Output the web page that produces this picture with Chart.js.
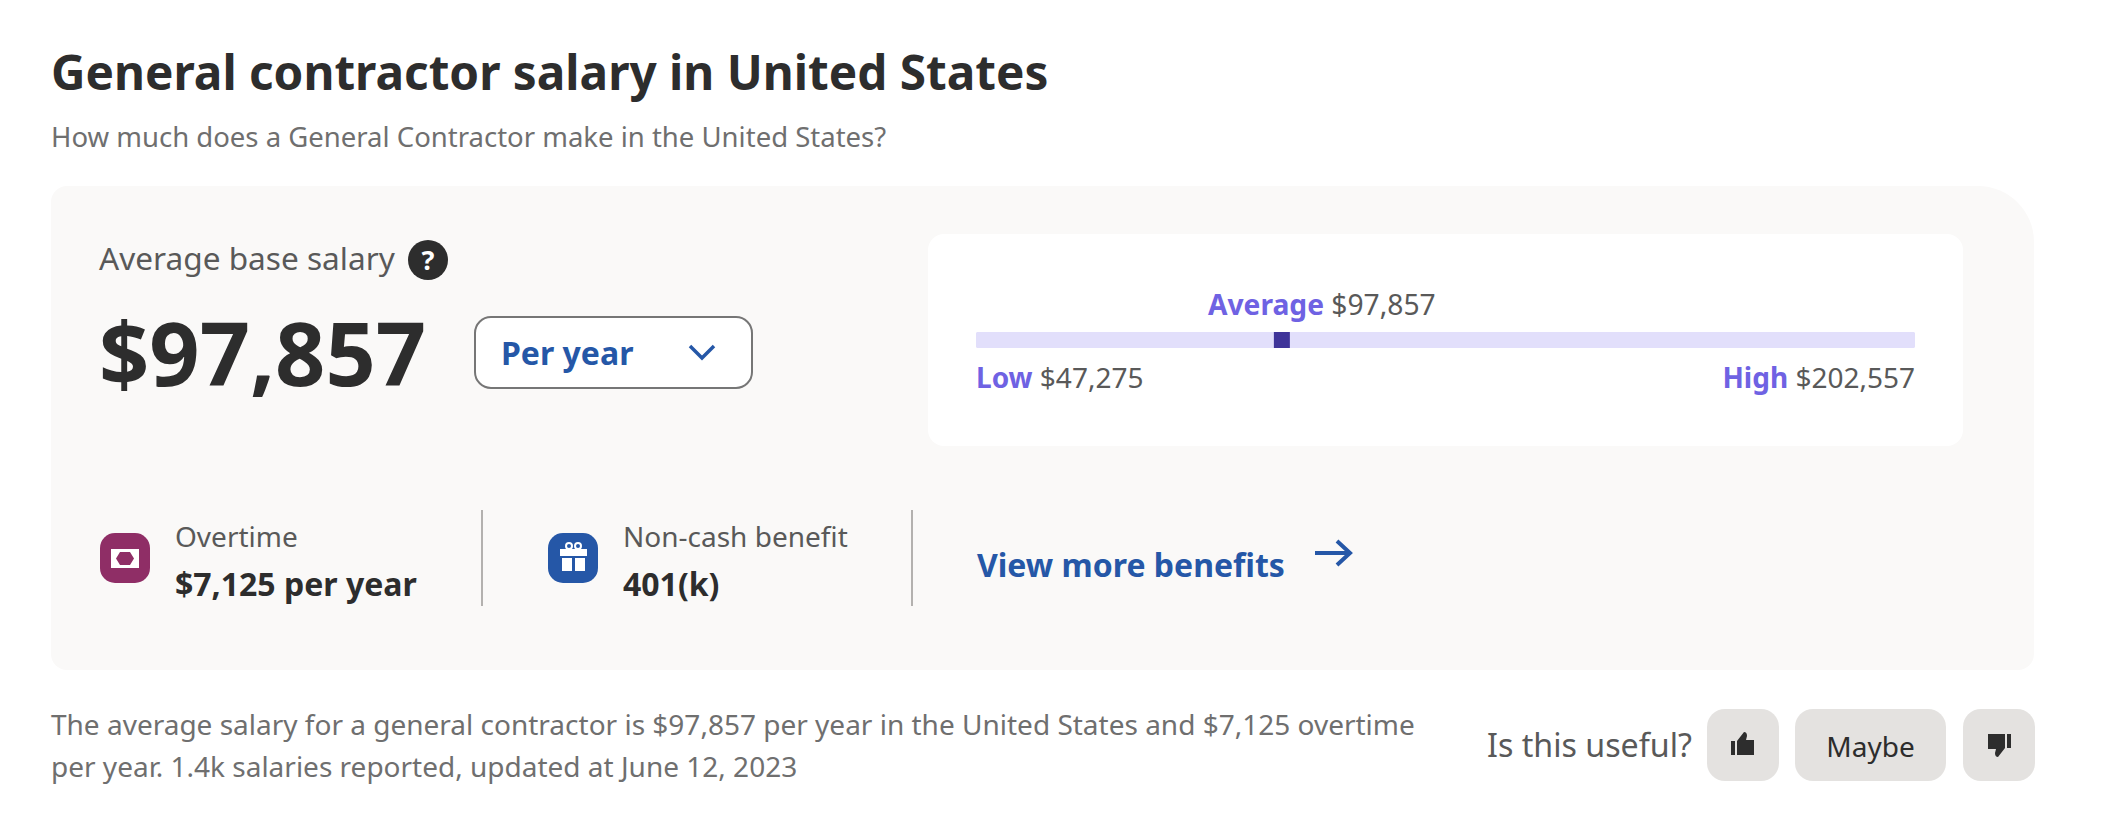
<!DOCTYPE html>
<html>
<head>
<meta charset="utf-8">
<title>General contractor salary in United States</title>
<script src="https://cdn.jsdelivr.net/npm/chart.js@4"></script>
<style>
  html, body { margin: 0; padding: 0; background: #fff; }
  #page { position: relative; width: 2102px; height: 832px; overflow: hidden; }
  #page svg { position: absolute; left: 0; top: 0; }
  #page text { font-family: "Noto Sans", sans-serif; }
  #rangeChart { position: absolute; left: 976px; top: 332px; }
  .b { font-weight: 700; }
</style>
</head>
<body>
<div id="page">
  <svg width="2102" height="832" viewBox="0 0 2102 832">
    <text class="b" x="51" y="90" font-size="47.700" fill="#2d2d2d">General contractor salary in United States</text>
    <text x="51" y="147" font-size="27.500" fill="#6f6f6f">How much does a General Contractor make in the United States?</text>

    <path d="M67 186H1978A56 56 0 0 1 2034 242V654A16 16 0 0 1 2018 670H67A16 16 0 0 1 51 654V202A16 16 0 0 1 67 186Z" fill="#faf9f8"/>
    <rect x="928" y="234" width="1035" height="212" rx="16" fill="#fff"/>

    <text x="99" y="270" font-size="31.600" fill="#595959">Average base salary</text>
    <circle cx="428" cy="260" r="20" fill="#2d2d2d"/>
    <text class="b" x="428" y="270" font-size="27" fill="#fff" text-anchor="middle">?</text>
    <text id="avgBig" class="b" x="99" y="386" font-size="88" fill="#2d2d2d"></text>

    <rect x="475" y="317" width="277" height="71" rx="16" fill="#fff" stroke="#767676" stroke-width="2"/>
    <text class="b" x="501" y="365" font-size="32" fill="#2557a7">Per year</text>
    <path d="M690 346L702 358L714 346" fill="none" stroke="#2557a7" stroke-width="3.500"/>

    <text id="avgLabel" x="1208" y="315" font-size="28.200" fill="#595959"><tspan class="b" fill="#6f62e3">Average</tspan> <tspan id="avgValue"></tspan></text>
    <text id="lowLabel" x="976" y="388" font-size="28" fill="#595959"><tspan class="b" fill="#6f62e3">Low</tspan> <tspan id="lowValue"></tspan></text>
    <text id="highLabel" x="1915" y="388" font-size="28" fill="#595959" text-anchor="end"><tspan class="b" fill="#6f62e3">High</tspan> <tspan id="highValue"></tspan></text>

    <!-- overtime -->
    <rect x="100" y="533" width="50" height="50" rx="15" fill="#8f2e66"/>
    <path d="M111 549H139V568H111Z M120 552L116 558.500L120 565H130L134 558.500L130 552Z" fill="#fff" fill-rule="evenodd"/>
    <text x="175" y="547" font-size="28" fill="#595959">Overtime</text>
    <text class="b" x="175" y="595.500" font-size="32" fill="#2d2d2d">$7,125 per year</text>
    <rect x="481" y="510" width="2" height="96" fill="#b3b1af"/>

    <!-- non-cash -->
    <rect x="548" y="533" width="50" height="50" rx="15" fill="#2557a7"/>
    <path d="M560 549H587V556H560Z M562 558H572V571H562Z M575 558H585V571H575Z" fill="#fff"/>
    <circle cx="569" cy="546" r="3" fill="none" stroke="#fff" stroke-width="2"/>
    <circle cx="578" cy="546" r="3" fill="none" stroke="#fff" stroke-width="2"/>
    <text x="623" y="547" font-size="28" fill="#595959">Non-cash benefit</text>
    <text class="b" x="623" y="595.500" font-size="32" fill="#2d2d2d">401(k)</text>
    <rect x="911" y="510" width="2" height="96" fill="#b3b1af"/>

    <text class="b" x="977" y="577" font-size="32" fill="#2557a7">View more benefits</text>
    <path d="M1315 553H1349M1337 541L1350 553L1337 565" fill="none" stroke="#2557a7" stroke-width="4"/>

    <!-- footer -->
    <text x="51" y="735" font-size="28" fill="#6f6f6f">The average salary for a general contractor is $97,857 per year in the United States and $7,125 overtime</text>
    <text x="51" y="777" font-size="28" fill="#6f6f6f">per year. 1.4k salaries reported, updated at June 12, 2023</text>

    <text x="1487" y="757" font-size="32.200" fill="#595959">Is this useful?</text>
    <rect x="1707" y="709" width="72" height="72" rx="18" fill="#e4e2e0"/>
    <rect x="1795" y="709" width="151" height="72" rx="18" fill="#e4e2e0"/>
    <rect x="1963" y="709" width="72" height="72" rx="18" fill="#e4e2e0"/>
    <text x="1870.500" y="757" font-size="28" fill="#2d2d2d" text-anchor="middle">Maybe</text>
    <path d="M1731 741H1735V755H1731Z M1737 755V741L1744 732Q1747 732 1747 736L1746 740H1754V755Z" fill="#2d2d2d"/>
    <path d="M2011 748H2007V734H2011Z M2005 734V748L1998 757Q1995 757 1995 753L1996 749H1988V734Z" fill="#2d2d2d"/>
  </svg>
  <canvas id="rangeChart" width="939" height="16"></canvas>
</div>

<script>
// nilai gaji
const rangeLabels = ['Salary'];
const lowSalary = [47275];
const highSalary = [202557];
const averageSalary = [97857];

const money = v => '$' + v.toLocaleString('en-US');

document.getElementById('avgBig').textContent = money(averageSalary[0]);
document.getElementById('avgValue').textContent = money(averageSalary[0]);
document.getElementById('lowValue').textContent = money(lowSalary[0]);
document.getElementById('highValue').textContent = money(highSalary[0]);

new Chart(document.getElementById('rangeChart').getContext('2d'), {
  type: 'bar',
  data: {
    labels: rangeLabels,
    datasets: [
      {
        // titik rata-rata di atas track
        type: 'scatter',
        data: averageSalary.map((v, i) => ({ x: v, y: rangeLabels[i] })),
        pointStyle: 'rect',
        pointRadius: 11.314,
        pointBorderWidth: 0,
        backgroundColor: '#3f3499',
        clip: false,
        order: 1
      },
      {
        data: rangeLabels.map((_, i) => [lowSalary[i], highSalary[i]]),
        backgroundColor: '#e2dffb',
        barThickness: 16,
        borderRadius: 3,
        borderSkipped: false,
        order: 2
      }
    ]
  },
  options: {
    indexAxis: 'y',
    responsive: false,
    animation: false,
    devicePixelRatio: 1,
    // tanpa ini titik bikin area chart menyusut
    layout: { padding: 0, autoPadding: false },
    plugins: { legend: { display: false }, tooltip: { enabled: false } },
    scales: {
      x: { type: 'linear', display: false, min: lowSalary[0], max: highSalary[0] },
      y: { type: 'category', display: false, offset: true }
    }
  }
});
</script>
</body>
</html>
